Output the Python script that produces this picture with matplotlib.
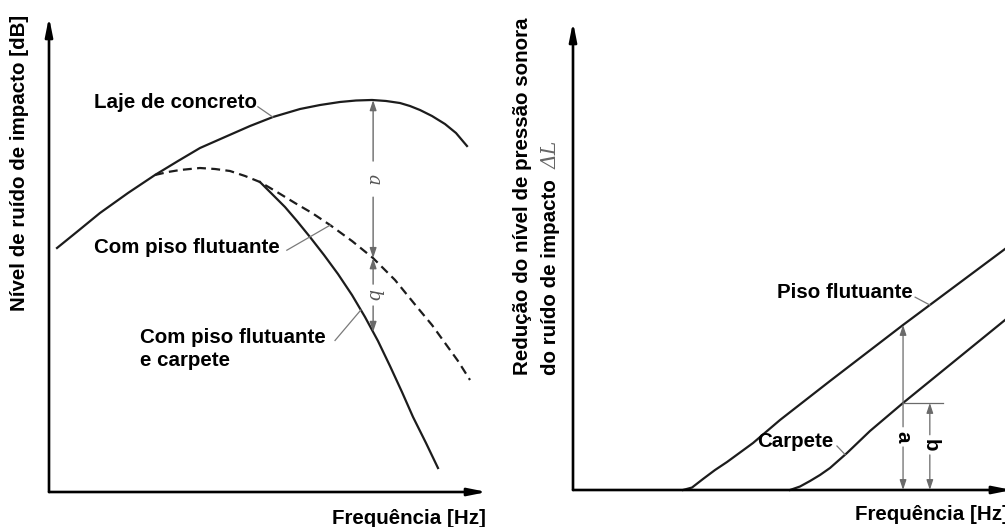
import numpy as np
import matplotlib
matplotlib.use("Agg")
import matplotlib.pyplot as plt

# left panel - impact noise level vs frequency (schematic, 0-100 units)
conc_x = [1.83, 6.62, 11.64, 18.04, 24.20, 29.45, 34.47, 40.18, 45.89, 51.14, 57.31, 61.87,
          66.44, 70.09, 73.74, 76.94, 80.14, 82.42, 84.70, 87.44, 90.41, 92.92, 95.43]
conc_y = [51.37, 54.95, 58.74, 62.95, 66.74, 69.68, 72.42, 74.74, 77.05, 78.95, 80.63, 81.47,
          82.11, 82.42, 82.53, 82.32, 81.89, 81.26, 80.42, 79.16, 77.47, 75.58, 72.84]

float_x = [24.20, 27.17, 29.91, 34.47, 37.90, 41.32, 44.75, 48.17, 52.05, 56.16, 60.05,
           64.16, 69.18, 73.97, 79.00, 84.02, 87.44, 90.41, 93.38, 96.12]
float_y = [66.74, 67.37, 67.79, 68.21, 68.00, 67.58, 66.53, 65.26, 63.16, 60.84, 58.74,
           56.21, 52.84, 49.26, 44.63, 38.95, 35.16, 31.37, 27.58, 23.58]

carp_x = [48.17, 50.91, 53.88, 56.62, 59.59, 62.79, 65.98, 69.18, 72.15, 75.11, 77.85,
          80.59, 83.11, 86.07, 88.81]
carp_y = [65.26, 62.74, 60.00, 57.05, 53.68, 49.89, 45.89, 41.47, 36.84, 31.79, 26.53,
          21.05, 15.79, 10.32, 5.05]

# right panel - reduction of impact noise level
piso_x = [25.46, 27.55, 30.09, 32.87, 35.65, 38.66, 41.67, 47.92, 59.49, 76.39, 100.0]
piso_y = [0.0, 0.53, 2.35, 4.27, 5.98, 8.01, 10.04, 14.96, 23.29, 35.26, 51.50]

carpete_x = [50.23, 52.55, 54.86, 57.18, 59.49, 63.43, 68.75, 76.39, 100.0]
carpete_y = [0.0, 0.75, 1.92, 3.21, 4.70, 7.91, 12.61, 18.59, 36.32]

dim_left_x = 74.0
dim_right_a_x = 76.4
dim_right_b_x = 82.6

plt.rcParams["font.family"] = ["Liberation Sans", "DejaVu Sans"]
FS = 14.8
INK = "#1c1c1c"
GREY = "#6a6a6a"

fig = plt.figure(figsize=(10.05, 5.27), dpi=100)
ax1 = fig.add_axes([49 / 1005, 35 / 527, 438 / 1005, 475 / 527])
ax2 = fig.add_axes([573 / 1005, 37 / 527, 432 / 1005, 468 / 527])
for ax in (ax1, ax2):
    ax.set_xlim(0, 100)
    ax.set_ylim(0, 100)
    ax.axis("off")


def arrow(ax, start, end, lw=1.0, color=INK, hl=0.6, hw=0.2):
    ax.annotate("", xy=end, xytext=start, annotation_clip=False,
                arrowprops=dict(arrowstyle=f"-|>,head_length={hl},head_width={hw}",
                                lw=lw, color=color, shrinkA=0, shrinkB=0))


def leader(ax, p0, p1):
    ax.plot([p0[0], p1[0]], [p0[1], p1[1]], color="#7a7a7a", lw=0.9, clip_on=False)


# axes with arrows
arrow(ax1, (0, 0), (0, 100), lw=1.9, color="black", hl=1.1, hw=0.22)
arrow(ax1, (0, 0), (100, 0), lw=1.9, color="black", hl=1.1, hw=0.22)
arrow(ax2, (0, 0), (0, 100), lw=1.9, color="black", hl=1.1, hw=0.22)
arrow(ax2, (0, 0), (101.6, 0), lw=1.9, color="black", hl=1.1, hw=0.22)

# left curves
ax1.plot(conc_x, conc_y, color=INK, lw=1.6, clip_on=False, solid_joinstyle="round")
ax1.plot(float_x, float_y, color=INK, lw=1.6, ls=(0, (4, 2.4)), clip_on=False)
ax1.plot(carp_x, carp_y, color=INK, lw=1.6, clip_on=False, solid_joinstyle="round")

# left dimension lines a / b
top = np.interp(dim_left_x, conc_x, conc_y)
mid = np.interp(dim_left_x, float_x, float_y)
low = np.interp(dim_left_x, carp_x, carp_y)
ya = (top + mid) / 2
yb = (mid + low) / 2
arrow(ax1, (dim_left_x, ya + 3.8), (dim_left_x, top), color=GREY, lw=1.0)
arrow(ax1, (dim_left_x, ya - 3.8), (dim_left_x, mid), color=GREY, lw=1.0)
arrow(ax1, (dim_left_x, yb + 2.3), (dim_left_x, mid), color=GREY, lw=1.0)
arrow(ax1, (dim_left_x, yb - 2.3), (dim_left_x, low), color=GREY, lw=1.0)
ax1.text(dim_left_x, ya, "a", rotation=-90, ha="center", va="center", fontsize=13,
         family="DejaVu Serif", style="italic", color="#555555")
ax1.text(dim_left_x, yb, "b", rotation=-90, ha="center", va="center", fontsize=13,
         family="DejaVu Serif", style="italic", color="#555555")

# left labels and leaders
ax1.text(47.5, 81.9, "Laje de concreto", ha="right", va="center", fontsize=FS, weight="bold")
leader(ax1, (47.7, 81.1), (51.1, np.interp(51.1, conc_x, conc_y)))
ax1.text(52.7, 51.4, "Com piso flutuante", ha="right", va="center", fontsize=FS, weight="bold")
leader(ax1, (54.3, 50.9), (64.2, np.interp(64.2, float_x, float_y)))
ax1.text(20.8, 30.1, "Com piso flutuante\ne carpete", ha="left", va="center",
         fontsize=FS, weight="bold", linespacing=1.25)
leader(ax1, (65.3, 31.9), (71.2, np.interp(71.2, carp_x, carp_y)))

# right curves
ax2.plot(piso_x, piso_y, color=INK, lw=1.6, clip_on=False, solid_joinstyle="round")
ax2.plot(carpete_x, carpete_y, color=INK, lw=1.6, clip_on=False, solid_joinstyle="round")

a_top = np.interp(dim_right_a_x, piso_x, piso_y)
b_top = np.interp(dim_right_a_x, carpete_x, carpete_y)
arrow(ax2, (dim_right_a_x, 13.5), (dim_right_a_x, a_top), color=GREY, lw=0.9)
arrow(ax2, (dim_right_a_x, 9.2), (dim_right_a_x, 0), color=GREY, lw=0.9)
arrow(ax2, (dim_right_b_x, 11.8), (dim_right_b_x, b_top), color=GREY, lw=0.9)
arrow(ax2, (dim_right_b_x, 7.5), (dim_right_b_x, 0), color=GREY, lw=0.9)
ax2.plot([dim_right_a_x, 85.6], [b_top, b_top], color=GREY, lw=0.9, clip_on=False)
ax2.text(dim_right_a_x, 11.3, "a", rotation=-90, ha="center", va="center", fontsize=FS, weight="bold")
ax2.text(dim_right_b_x, 9.6, "b", rotation=-90, ha="center", va="center", fontsize=FS, weight="bold")

ax2.text(78.7, 42.1, "Piso flutuante", ha="right", va="center", fontsize=FS, weight="bold")
leader(ax2, (79.2, 41.2), (82.6, np.interp(82.6, piso_x, piso_y)))
ax2.text(60.2, 10.3, "Carpete", ha="right", va="center", fontsize=FS, weight="bold")
leader(ax2, (61.1, 9.4), (63.0, np.interp(63.0, carpete_x, carpete_y)))

# axis titles
fig.text(20 / 1005, 1 - 163 / 527, "Nível de ruído de impacto [dB]", rotation=90,
         ha="center", va="center", fontsize=FS, weight="bold")
fig.text(486 / 1005, 1 - 519 / 527, "Frequência [Hz]", ha="right", va="center",
         fontsize=FS, weight="bold")
# the reference crops this title at the right edge of the image
fig.text(855 / 1005, 1 - 515 / 527, "Frequência [Hz]", ha="left", va="center",
         fontsize=FS, weight="bold")
fig.text(522 / 1005, 1 - 375 / 527, "Redução do nível de pressão sonora", rotation=90,
         ha="center", va="bottom", fontsize=FS, weight="bold")
fig.text(550 / 1005, 1 - 375 / 527, "do ruído de impacto", rotation=90,
         ha="center", va="bottom", fontsize=FS, weight="bold")
fig.text(551 / 1005, 1 - 155 / 527, "ΔL", rotation=90, ha="center", va="center",
         fontsize=FS, family="DejaVu Serif", style="italic", color="#666666")

fig.savefig("out.png", dpi=100, facecolor="white")
